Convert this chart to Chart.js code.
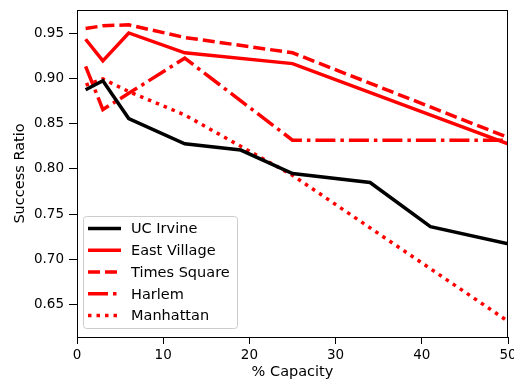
<!DOCTYPE html>
<html>
<head>
<meta charset="utf-8">
<title>Success Ratio vs % Capacity</title>
<script src="https://cdn.jsdelivr.net/npm/chart.js@4/dist/chart.umd.min.js"></script>
<style>
body { margin: 0; background: #fff; }
</style>
</head>
<body>
<canvas id="successChart" width="514" height="383"></canvas>
<script>
// data
let seriesNames = ["UC Irvine", "East Village", "Times Square", "Harlem", "Manhattan"];

let capacityUCI = [1, 3, 6, 12.5, 19, 25, 34, 41, 50];
let ucIrvine = [0.888, 0.898, 0.856, 0.828, 0.821, 0.795, 0.785, 0.736, 0.717];

let capacityNYC = [1, 3, 6, 12.5, 25, 50];
let eastVillage = [0.944, 0.920, 0.951, 0.929, 0.917, 0.828];
let timesSquare = [0.956, 0.959, 0.960, 0.946, 0.929, 0.835];
let harlem = [0.914, 0.866, 0.884, 0.923, 0.832, 0.832];
let manhattan = [0.893, 0.900, 0.886, 0.860, 0.793, 0.631];

let xTicks = [0, 10, 20, 30, 40, 50];
let yTicks = [0.65, 0.70, 0.75, 0.80, 0.85, 0.90, 0.95];

function points(xs, ys) {
  return xs.map((x, i) => ({ x: x, y: ys[i] }));
}

let lineStyles = [
  { color: "#000000", dash: [] },
  { color: "#ff0000", dash: [] },
  { color: "#ff0000", dash: [12, 5] },
  { color: "#ff0000", dash: [20, 5, 3.5, 5] },
  { color: "#ff0000", dash: [3.5, 5] }
];

let seriesData = [
  points(capacityUCI, ucIrvine),
  points(capacityNYC, eastVillage),
  points(capacityNYC, timesSquare),
  points(capacityNYC, harlem),
  points(capacityNYC, manhattan)
];

let datasets = seriesNames.map((name, i) => ({
  label: name,
  data: seriesData[i],
  borderColor: lineStyles[i].color,
  backgroundColor: lineStyles[i].color,
  borderDash: lineStyles[i].dash,
  borderWidth: 3.5,
  borderCapStyle: "butt",
  pointRadius: 0,
  tension: 0,
  fill: false
}));

const font = "'DejaVu Sans', sans-serif";

// box around plot + legend in lower left, matplotlib style
const framePlugin = {
  id: "frame",
  afterDatasetsDraw(chart) {
    let ctx = chart.ctx;
    let a = chart.chartArea;
    ctx.save();
    ctx.strokeStyle = "#000";
    ctx.lineWidth = 1;
    ctx.strokeRect(Math.round(a.left) + 0.5, Math.round(a.top) + 0.5,
      Math.round(a.right - a.left) - 1, Math.round(a.bottom - a.top));

    // legend
    let bx = 83.5, by = 216.5, bw = 154, bh = 112;
    ctx.beginPath();
    ctx.roundRect(bx, by, bw, bh, 3);
    ctx.fillStyle = "rgba(255,255,255,0.8)";
    ctx.fill();
    ctx.strokeStyle = "#cccccc";
    ctx.stroke();

    ctx.font = "14.5px " + font;
    ctx.textBaseline = "middle";
    chart.data.datasets.forEach((ds, i) => {
      let y = 228.5 + i * 21.75;
      ctx.beginPath();
      ctx.setLineDash(ds.borderDash);
      ctx.lineWidth = 3.5;
      ctx.strokeStyle = ds.borderColor;
      ctx.moveTo(88, y);
      ctx.lineTo(121, y);
      ctx.stroke();
      ctx.setLineDash([]);
      ctx.fillStyle = "#000";
      ctx.fillText(ds.label, 131, y + 1);
    });
    ctx.restore();
  }
};

let ctx = document.getElementById("successChart").getContext("2d");

let chart = new Chart(ctx, {
  type: "line",
  data: { datasets: datasets },
  options: {
    responsive: false,
    animation: false,
    layout: { padding: { top: 10, right: 6, left: 0, bottom: 0 } },
    plugins: {
      legend: { display: false },
      tooltip: { enabled: false }
    },
    scales: {
      x: {
        type: "linear",
        min: 0,
        max: 50,
        afterBuildTicks: (scale) => { scale.ticks = xTicks.map(v => ({ value: v })); },
        afterFit: (scale) => {
          scale.height = 46;
          scale.paddingLeft = 0;
          scale.paddingRight = 0;
        },
        border: { display: false },
        grid: { drawOnChartArea: false, drawTicks: true, tickLength: 7, color: "#000" },
        ticks: { color: "#000", padding: 3, maxRotation: 0, font: { family: font, size: 13.5 } },
        title: { display: true, text: "% Capacity", color: "#000", padding: { top: 0, bottom: 2 }, font: { family: font, size: 14.5 } }
      },
      y: {
        type: "linear",
        min: 0.6135,
        max: 0.9765,
        afterBuildTicks: (scale) => { scale.ticks = yTicks.map(v => ({ value: v })); },
        afterFit: (scale) => {
          scale.width = 77;
          scale.paddingTop = 0;
          scale.paddingBottom = 0;
        },
        border: { display: false },
        grid: { drawOnChartArea: false, drawTicks: true, tickLength: 8, color: "#000" },
        ticks: { color: "#000", padding: 5, font: { family: font, size: 13.5 }, callback: (v) => v.toFixed(2) },
        title: { display: true, text: "Success Ratio", color: "#000", padding: { top: 12, bottom: 0 }, font: { family: font, size: 14.5 } }
      }
    }
  },
  plugins: [framePlugin]
});
</script>
</body>
</html>
